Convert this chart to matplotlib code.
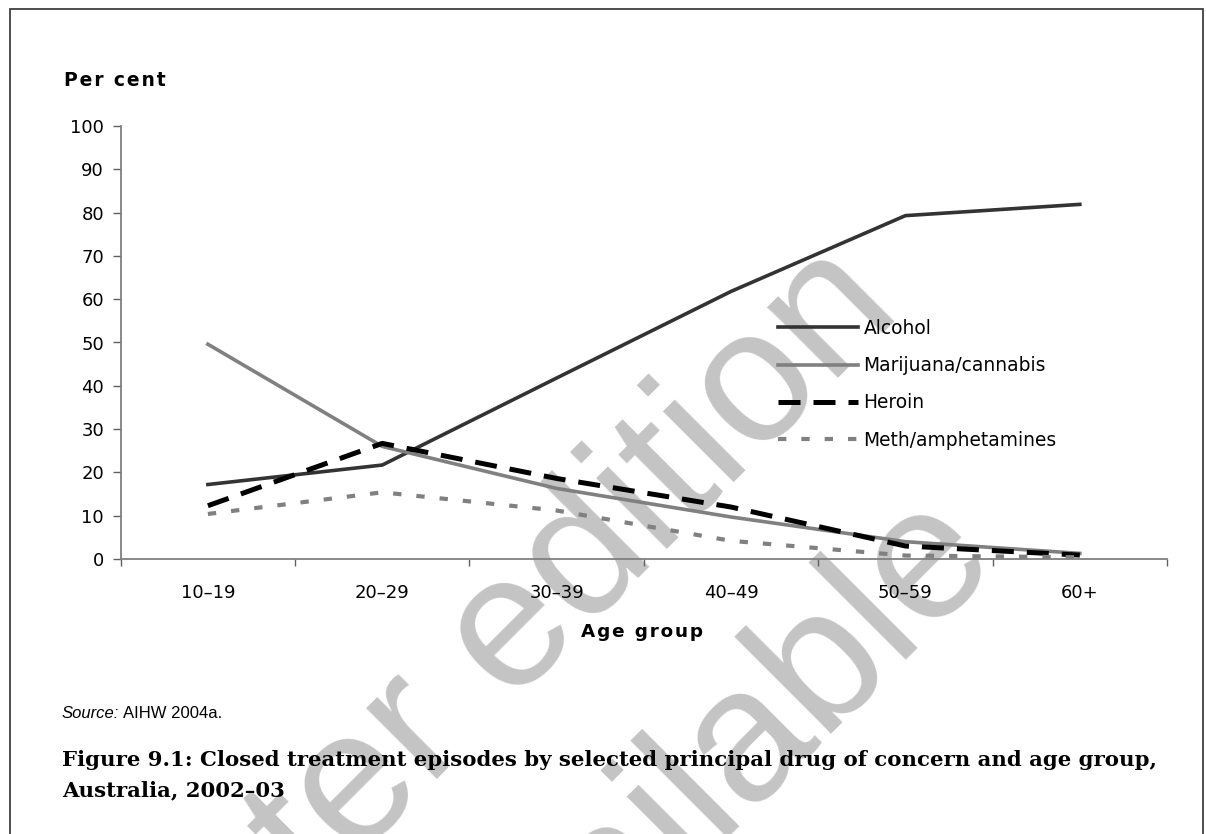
import matplotlib
matplotlib.use("Agg")
import matplotlib.pyplot as plt
from matplotlib.patches import Rectangle

# ---- data ----
age_groups = ["10–19", "20–29", "30–39", "40–49", "50–59", "60+"]
alcohol = [17.2, 21.7, 41.8, 61.8, 79.3, 81.9]
marijuana = [49.6, 26.0, 16.3, 9.7, 4.0, 1.3]
heroin = [12.3, 26.7, 18.6, 12.0, 3.0, 0.9]
meth = [10.4, 15.4, 11.2, 4.2, 0.8, 0.4]
yticks = list(range(0, 101, 10))

W, H = 1206, 834
fig = plt.figure(figsize=(W / 100, H / 100), dpi=100)
fig.patch.set_facecolor("white")

def fx(px):
    return px / W

def fy(py):
    return 1 - py / H

HS = "\u200a"  # hair space for letter spacing

def spaced(s):
    return HS.join(s)

# outer frame
fig.patches.append(Rectangle((fx(10), fy(900)), fx(1203) - fx(10), fy(9) - fy(900),
                             transform=fig.transFigure, fill=False,
                             edgecolor="#404040", lw=1.3, zorder=0.2))

# watermark (drawn beneath chart content)
wm_kw = dict(fontsize=136, family="Liberation Sans", color="#c4c4c4",
             rotation=45, rotation_mode="anchor", ha="center", va="baseline",
             zorder=0.5)
fig.text(fx(536), fy(680), "Later edition", **wm_kw)
fig.text(fx(735), fy(822), "available", **wm_kw)

left, right, top, bottom = 120.7, 1167, 126, 559
ax = fig.add_axes([fx(left), fy(bottom), fx(right) - fx(left), fy(top) - fy(bottom)])
ax.set_zorder(1)
ax.patch.set_alpha(0)

x = list(range(len(age_groups)))
ax.plot(x, alcohol, color="#333333", lw=2.6, label="Alcohol")
ax.plot(x, marijuana, color="#808080", lw=2.6, label="Marijuana/cannabis")
ax.plot(x, heroin, color="black", lw=3.6, dashes=(4.4, 2.6), label="Heroin")
ax.plot(x, meth, color="#808080", lw=3.0, dashes=(2.0, 3.6), label="Meth/amphetamines")

ax.set_xlim(-0.5, len(age_groups) - 0.5)
ax.set_ylim(0, 100)
ax.set_yticks(yticks)
ax.set_yticklabels([str(v) for v in yticks])
ax.set_xticks(x)
ax.set_xticklabels(age_groups)
ax.set_xticks([i - 0.5 for i in range(len(age_groups) + 1)], minor=True)

for side in ("top", "right"):
    ax.spines[side].set_visible(False)
for side in ("left", "bottom"):
    ax.spines[side].set_color("#808080")
    ax.spines[side].set_linewidth(1.3)

ax.tick_params(axis="y", which="major", length=6, width=1.0, color="#606060",
               pad=6, labelsize=13)
ax.tick_params(axis="x", which="major", length=0, pad=18, labelsize=13)
ax.tick_params(axis="x", which="minor", length=5, width=1.0, color="#606060")
for lab in ax.get_xticklabels() + ax.get_yticklabels():
    lab.set_family("DejaVu Sans")

leg = ax.legend(loc="upper left", bbox_to_anchor=(fx(778), fy(319)),
                bbox_transform=fig.transFigure, frameon=False,
                prop={"family": "DejaVu Sans", "size": 13.4},
                handlelength=4.3, handletextpad=0.3, labelspacing=0.98,
                borderpad=0, borderaxespad=0)

fig.text(fx(64), fy(80), spaced("Per cent"), fontsize=13.5, fontweight="bold",
         family="DejaVu Sans", ha="left", va="center")
fig.text(fx(642), fy(632), spaced("Age group"), fontsize=13.2, fontweight="bold",
         family="DejaVu Sans", ha="center", va="center")

# source line
fig.canvas.draw()
renderer = fig.canvas.get_renderer()
s1 = fig.text(fx(62), fy(713), "Source:", fontsize=12, style="italic",
              family="Liberation Sans", ha="left", va="center")
bb = s1.get_window_extent(renderer)
fig.text(bb.x1 / W + fx(4), fy(713), "AIHW 2004a.", fontsize=12,
         family="Liberation Sans", ha="left", va="center")

# caption
cap1 = "Figure 9.1: Closed treatment episodes by selected principal drug of concern and age group,"
cap2 = "Australia, 2002–03"
t1 = fig.text(fx(62), fy(760), cap1, fontsize=16, fontweight="bold",
              family="DejaVu Serif", ha="left", va="center")
w = t1.get_window_extent(renderer).width
fs = 16 * 1095 / w
t1.set_fontsize(fs)
fig.text(fx(62), fy(790), cap2, fontsize=fs, fontweight="bold",
         family="DejaVu Serif", ha="left", va="center")

fig.savefig("out.png", dpi=100)
